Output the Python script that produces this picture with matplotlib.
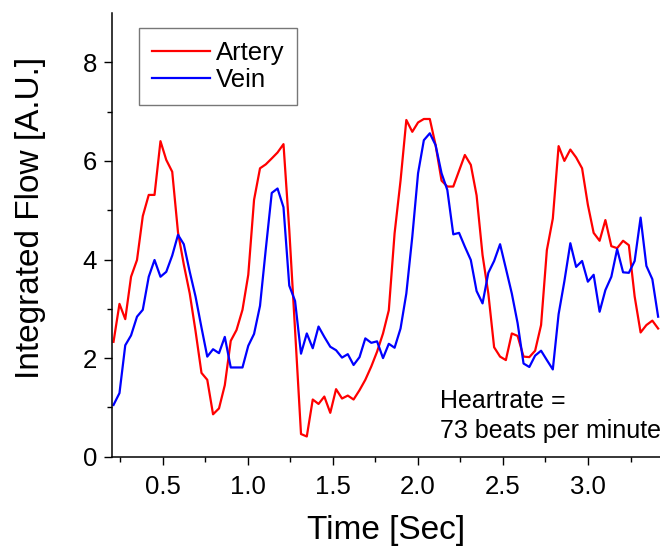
import numpy as np
import matplotlib
matplotlib.use("Agg")
import matplotlib.pyplot as plt

plt.rcParams['font.family'] = ['Liberation Sans', 'DejaVu Sans']

time_s = [0.211, 0.246, 0.280, 0.314, 0.349, 0.383, 0.418, 0.452, 0.487, 0.521,
          0.556, 0.590, 0.624, 0.659, 0.693, 0.728, 0.762, 0.796, 0.831, 0.865,
          0.900, 0.934, 0.969, 1.003, 1.037, 1.072, 1.106, 1.141, 1.175, 1.210,
          1.244, 1.278, 1.313, 1.347, 1.382, 1.416, 1.450, 1.485, 1.519, 1.554,
          1.588, 1.622, 1.657, 1.691, 1.726, 1.760, 1.795, 1.829, 1.863, 1.898,
          1.932, 1.967, 2.001, 2.035, 2.070, 2.104, 2.139, 2.173, 2.208, 2.242,
          2.276, 2.311, 2.345, 2.380, 2.414, 2.448, 2.483, 2.517, 2.552, 2.586,
          2.621, 2.655, 2.689, 2.724, 2.758, 2.793, 2.827, 2.861, 2.896, 2.930,
          2.965, 2.999, 3.033, 3.068, 3.102, 3.137, 3.171, 3.206, 3.240, 3.274,
          3.309, 3.343, 3.378, 3.412]

artery = [2.33, 3.10, 2.79, 3.65, 3.99, 4.88, 5.31, 5.31, 6.40, 6.02,
          5.78, 4.55, 3.90, 3.31, 2.55, 1.70, 1.56, 0.86, 0.98, 1.45,
          2.35, 2.57, 2.98, 3.69, 5.21, 5.85, 5.93, 6.05, 6.17, 6.34,
          4.60, 2.57, 0.46, 0.41, 1.16, 1.07, 1.22, 0.89, 1.37, 1.18,
          1.24, 1.16, 1.35, 1.56, 1.83, 2.13, 2.50, 2.97, 4.53, 5.60,
          6.83, 6.59, 6.78, 6.85, 6.85, 6.32, 5.60, 5.48, 5.48, 5.80,
          6.12, 5.92, 5.30, 4.09, 3.31, 2.22, 2.03, 1.96, 2.50, 2.45,
          2.03, 2.02, 2.15, 2.67, 4.19, 4.83, 6.30, 6.00, 6.23, 6.07,
          5.85, 5.11, 4.54, 4.38, 4.80, 4.27, 4.23, 4.38, 4.29, 3.25,
          2.52, 2.67, 2.76, 2.60]

vein = [1.05, 1.29, 2.26, 2.46, 2.84, 2.98, 3.65, 3.99, 3.65, 3.75,
        4.08, 4.50, 4.31, 3.75, 3.25, 2.62, 2.03, 2.18, 2.10, 2.43,
        1.81, 1.81, 1.81, 2.25, 2.49, 3.06, 4.21, 5.35, 5.44, 5.06,
        3.47, 3.16, 2.09, 2.50, 2.20, 2.64, 2.43, 2.23, 2.16, 2.01,
        2.08, 1.86, 2.02, 2.40, 2.31, 2.34, 2.00, 2.29, 2.21, 2.60,
        3.31, 4.46, 5.75, 6.42, 6.56, 6.32, 5.75, 5.41, 4.51, 4.54,
        4.26, 3.99, 3.36, 3.11, 3.73, 3.97, 4.31, 3.82, 3.31, 2.71,
        1.89, 1.82, 2.05, 2.15, 1.96, 1.77, 2.89, 3.56, 4.33, 3.85,
        3.97, 3.55, 3.69, 2.94, 3.38, 3.65, 4.21, 3.74, 3.73, 3.97,
        4.85, 3.87, 3.60, 2.84]

series_labels = ["Artery", "Vein"]
x_ticks = [0.5, 1.0, 1.5, 2.0, 2.5, 3.0]
y_ticks = [0, 2, 4, 6, 8]

W, H = 660, 550
fig = plt.figure(figsize=(W / 100, H / 100), dpi=100)
L, R, T, B = 112.5, 660, 13, 456.7
ax = fig.add_axes([L / W, 1 - B / H, (R - L) / W, (B - T) / H])

ax.plot(time_s, artery, color='#ff0000', lw=1.6, label=series_labels[0])
ax.plot(time_s, vein, color='#0000ff', lw=1.6, label=series_labels[1])

ax.set_xlim(0.205, 3.423)
ax.set_ylim(0, 9)
ax.set_xticks(x_ticks)
ax.set_xticklabels([f"{v:.1f}" for v in x_ticks])
ax.set_yticks(y_ticks)
ax.set_xticks(np.arange(0.25, 3.4, 0.25), minor=True)
ax.set_yticks(np.arange(1, 9, 2), minor=True)
ax.tick_params(which='major', direction='out', length=6, width=1.0, labelsize=18.5, pad=5)
ax.tick_params(axis='x', which='major', pad=7.5)
ax.tick_params(which='minor', direction='out', length=3.5, width=1.0)
ax.spines['top'].set_visible(False)
ax.spines['right'].set_visible(False)
for s in ('left', 'bottom'):
    ax.spines[s].set_linewidth(1.1)

fig.text(386 / W, 1 - 531 / H, "Time [Sec]", ha='center', va='center', fontsize=24)
fig.text(31 / W, 1 - 218 / H, "Integrated Flow [A.U.]", ha='center', va='center',
         rotation=90, fontsize=24)

ax.text((440 - L) / (R - L), (B - 408) / (B - T), "Heartrate =", transform=ax.transAxes,
        ha='left', va='baseline', fontsize=18)
ax.text((440 - L) / (R - L), (B - 438) / (B - T), "73 beats per minute", transform=ax.transAxes,
        ha='left', va='baseline', fontsize=18)

leg = ax.legend(loc='upper left', bbox_to_anchor=((139 - L) / (R - L), 1 - (28 - T) / (B - T)),
                borderaxespad=0, fontsize=18.5, frameon=True, fancybox=False,
                handlelength=2.25, handletextpad=0.25, labelspacing=0.12, borderpad=0.5)
leg.get_frame().set_edgecolor('#555555')
leg.get_frame().set_linewidth(1.0)

fig.savefig("out.png", dpi=100)
